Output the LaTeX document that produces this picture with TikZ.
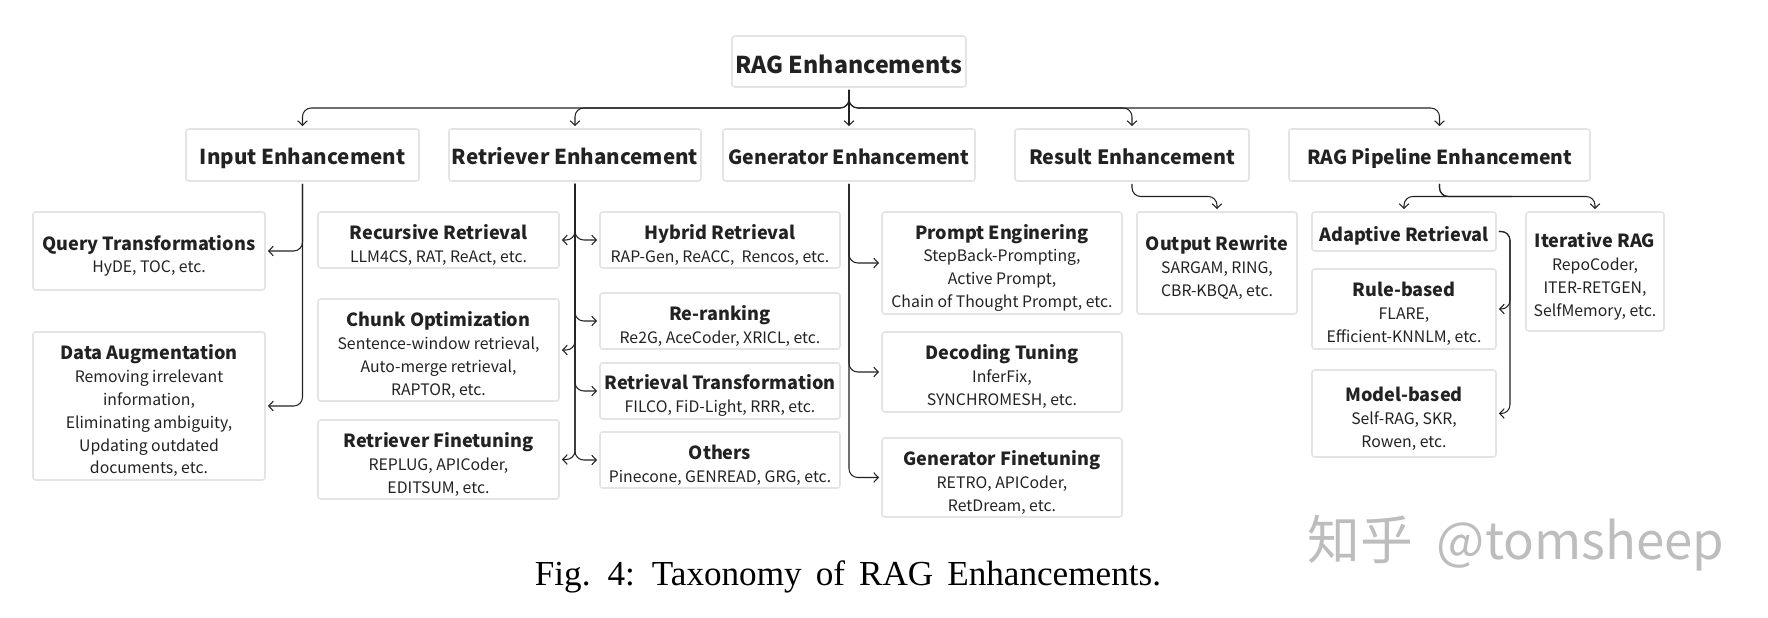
\documentclass[tikz,border=0pt]{standalone}
\usepackage{fontspec}
\setsansfont{Noto Sans CJK SC}
\newfontfamily\captionfont{Liberation Serif}
\usetikzlibrary{calc,positioning,arrows.meta}

\definecolor{inkcolor}{HTML}{222222}
\definecolor{edgecolor}{HTML}{E4E4E4}
\definecolor{markcolor}{HTML}{BDBDBD}
\newcommand{\boxhead}[1]{{\bfseries\fontsize{10.3}{13}\selectfont\rule{0pt}{14pt}#1}}

\begin{document}
\begin{tikzpicture}[auto, node distance=.5cm,
    box node/.style={draw=edgecolor,line width=.9pt,rounded corners=1.5pt,inner sep=0pt,outer sep=0pt,align=center,
                     text=inkcolor,font=\sffamily\fontsize{9}{13}\selectfont},
    top node/.style={box node,text height=14pt,text depth=3pt,font=\sffamily\bfseries\fontsize{#1}{14}\selectfont},
    link/.style={-{Straight Barb[length=2.6pt,width=5.5pt]},draw=inkcolor,line width=.6pt,
                 rounded corners=5pt,shorten >=1.7pt,shorten <=1.7pt}]

  \useasboundingbox (-16.98,1.23) rectangle (18.38,-11.13);

  \node[top node=13.2,text height=16.7pt,minimum width=4.68cm,minimum height=1.02cm] (root) {RAG Enhancements};

  \node[top node=11.1,minimum width=5.04cm,minimum height=1.04cm] (generator) [below=.84cm of root] {Generator Enhancement};
  \node[top node=11.7,minimum width=5.04cm,minimum height=1.04cm] (retriever) [left=.44cm of generator] {Retriever Enhancement};
  \node[top node=11.7,minimum width=4.66cm,minimum height=1.04cm] (input) [left=.6cm of retriever] {Input Enhancement};
  \node[top node=11.2,minimum width=4.68cm,minimum height=1.04cm] (result) [right=.8cm of generator] {Result Enhancement};
  \node[top node=11,minimum width=6.02cm,minimum height=1.04cm] (pipeline) [right=.8cm of result] {RAG Pipeline Enhancement};

  \node[box node,minimum width=4.64cm,minimum height=1.56cm] (query) [below left=.62cm and -1.58cm of input]
    {\boxhead{Query Transformations}\\HyDE, TOC, etc.};
  \node[box node,minimum width=4.64cm,minimum height=2.96cm] (augment) [below=.84cm of query]
    {\boxhead{Data Augmentation}\\Removing irrelevant\\information,\\Eliminating ambiguity,\\Updating outdated\\documents, etc.};

  \node[box node,minimum width=4.8cm,minimum height=1.12cm] (hybrid) [below right=.62cm and -2.02cm of retriever]
    {\boxhead{Hybrid Retrieval}\\RAP-Gen, ReACC,\ \ Rencos, etc.};
  \node[box node,minimum width=4.8cm,minimum height=1.12cm] (rerank) [below=.5cm of hybrid]
    {\boxhead{Re-ranking}\\Re2G, AceCoder, XRICL, etc.};
  \node[box node,minimum width=4.8cm,minimum height=1.12cm] (transform) [below=.28cm of rerank]
    {\boxhead{Retrieval Transformation}\\FILCO, FiD-Light, RRR, etc.};
  \node[box node,minimum width=4.8cm,minimum height=1.12cm] (others) [below=.26cm of transform]
    {\boxhead{Others}\\Pinecone, GENREAD, GRG, etc.};

  \node[box node,minimum width=4.82cm,minimum height=1.12cm] (recursive) [left=.82cm of hybrid]
    {\boxhead{Recursive Retrieval}\\LLM4CS, RAT, ReAct, etc.};
  \node[box node,minimum width=4.82cm,minimum height=2.04cm] (chunk) [below=.62cm of recursive]
    {\boxhead{Chunk Optimization}\\Sentence-window retrieval,\\Auto-merge retrieval,\\RAPTOR, etc.};
  \node[box node,minimum width=4.82cm,minimum height=1.58cm] (finetune) [below=.38cm of chunk]
    {\boxhead{Retriever Finetuning}\\REPLUG, APICoder,\\EDITSUM, etc.};

  \node[box node,minimum width=4.8cm,minimum height=2.04cm] (prompt) [below right=.62cm and -1.86cm of generator]
    {\boxhead{Prompt Enginering}\\StepBack-Prompting,\\Active Prompt,\\Chain of Thought Prompt, etc.};
  \node[box node,minimum width=4.8cm,minimum height=1.6cm] (decoding) [below=.36cm of prompt]
    {\boxhead{Decoding Tuning}\\InferFix,\\SYNCHROMESH, etc.};
  \node[box node,minimum width=4.8cm,minimum height=1.58cm] (genfine) [below=.52cm of decoding]
    {\boxhead{Generator Finetuning}\\RETRO, APICoder,\\RetDream, etc.};

  \node[box node,minimum width=3.2cm,minimum height=2.04cm] (output) [below right=.62cm and -2.24cm of result]
    {\boxhead{Output Rewrite}\\SARGAM, RING,\\CBR-KBQA, etc.};

  \node[box node,minimum width=3.68cm,minimum height=.78cm] (adaptive) [below right=.62cm and -5.56cm of pipeline]
    {\boxhead{Adaptive Retrieval}};
  \node[box node,minimum width=3.68cm,minimum height=1.6cm] (rule) [below=.36cm of adaptive]
    {\boxhead{Rule-based}\\FLARE,\\Efficient-KNNLM, etc.};
  \node[box node,minimum width=3.68cm,minimum height=1.74cm] (model) [below=.42cm of rule]
    {\boxhead{Model-based}\\Self-RAG, SKR,\\Rowen, etc.};
  \node[box node,minimum width=2.76cm,minimum height=2.38cm] (iterative) [below right=.62cm and -1.28cm of pipeline]
    {\boxhead{Iterative RAG}\\RepoCoder,\\ITER-RETGEN,\\SelfMemory, etc.};

  \coordinate (rootbus) at ($(root.south)!.5!(generator.north)$);
  \coordinate (resultbus) at ($(result.south)!.5!(output.north)$);
  \coordinate (pipebus) at ($(pipeline.south)!.5!(iterative.north)$);
  \coordinate (adaptturn) at ([xshift=.28cm]adaptive.east);

  \draw[link] (root.south) -- (generator.north);
  \draw[link] (root.south) -- (rootbus) -| (input.north);
  \draw[link] (root.south) -- (rootbus) -| (retriever.north);
  \draw[link] (root.south) -- (rootbus) -| (result.north);
  \draw[link] (root.south) -- (rootbus) -| (pipeline.north);

  \draw[link] (input.south) |- (query.east);
  \draw[link] (input.south) |- (augment.east);

  \draw[link] (retriever.south) |- (recursive.east);
  \draw[link] (retriever.south) |- (chunk.east);
  \draw[link] (retriever.south) |- (finetune.east);
  \draw[link] (retriever.south) |- (hybrid.west);
  \draw[link] (retriever.south) |- (rerank.west);
  \draw[link] (retriever.south) |- (transform.west);
  \draw[link] (retriever.south) |- (others.west);

  \draw[link] (generator.south) |- (prompt.west);
  \draw[link] (generator.south) |- (decoding.west);
  \draw[link] (generator.south) |- (genfine.west);

  \draw[link] (result.south) |- (resultbus) -| (output.north);
  \draw[link] (pipeline.south) |- (pipebus) -| (adaptive.north);
  \draw[link] (pipeline.south) |- (pipebus) -| (iterative.north);

  \draw[link] (adaptive.east) -- (adaptturn) |- (rule.east);
  \draw[link] (adaptive.east) -- (adaptturn) |- (model.east);

  \node[font=\captionfont\fontsize{20}{22}\selectfont,text=black] (caption) at (-.02,-10.31)
    {\spaceskip=.4em\relax Fig. 4: Taxonomy of RAG Enhancements.};
  \node[font=\sffamily\fontsize{30}{32}\selectfont,text=markcolor] (mark) at (13.34,-9.63)
    {知乎\hspace{.45em}{\fontsize{29}{32}\selectfont @tomsheep}};

\end{tikzpicture}
\end{document}
